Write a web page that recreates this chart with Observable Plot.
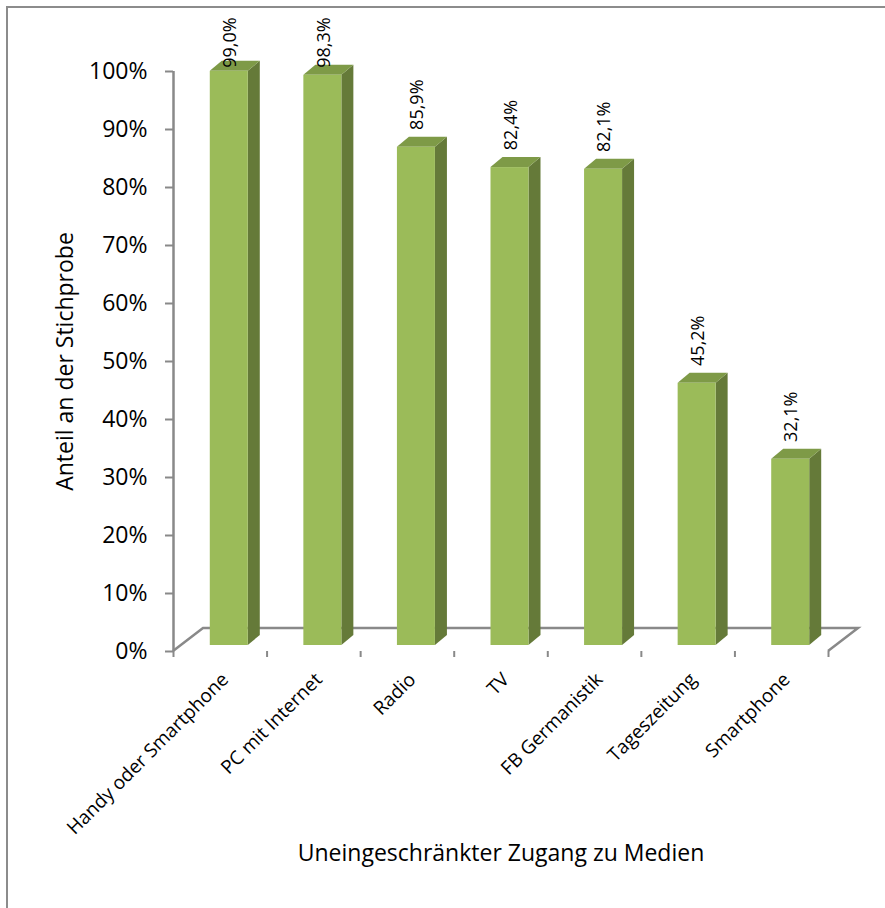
<!DOCTYPE html>
<html>
<head>
<meta charset="utf-8">
<script src="https://cdn.jsdelivr.net/npm/d3@7"></script>
<script src="https://cdn.jsdelivr.net/npm/@observablehq/plot@0.6"></script>
<style>
  html, body { margin: 0; padding: 0; background: #fff; overflow: hidden; }
  #wrap { position: relative; width: 885px; height: 908px; overflow: hidden; background: #fff; }
  #chart svg { display: block; background: transparent; }
  #border { position: absolute; left: 6px; top: 6px; width: 1000px; height: 1000px;
            border: 2px solid #8c8c8c; pointer-events: none; }
</style>
</head>
<body>
<div id="wrap"><div id="chart"></div><div id="border"></div></div>
<script>
// Media categories and the share of the sample with unrestricted access (%)
const categories = [
  "Handy oder Smartphone",
  "PC mit Internet",
  "Radio",
  "TV",
  "FB Germanistik",
  "Tageszeitung",
  "Smartphone"
];
const shares = [99.0, 98.3, 85.9, 82.4, 82.1, 45.2, 32.1];
const yTicks = [0, 10, 20, 30, 40, 50, 60, 70, 80, 90, 100];
const xTitle = "Uneingeschränkter Zugang zu Medien";
const yTitle = "Anteil an der Stichprobe";

const rows = categories.map((name, i) => ({name, i, share: shares[i]}));
const fmtShare = (v) => v.toFixed(1).replace(".", ",") + "%";

// Pixel geometry of the pseudo-3D look
const FLOOR = {dx: 30, dy: -23};     // depth of the floor
const PLANE = {dx: 9, dy: -6};       // bars sit slightly behind the front edge
const DEPTH = {dx: 12, dy: -10};     // bar thickness
const HALF = 19;                     // half width of a bar's front face
const GRID = "#898989";

const COLORS = {front: "#9bbb59", side: "#657a39", top: "#7e9a47"};

// Floor outline: front edge, back edge and the two receding sides
function floor(index, scales) {
  const x0 = scales.x(0), x1 = scales.x(categories.length), y0 = scales.y(0);
  const g = d3.create("svg:g")
    .attr("fill", "none")
    .attr("stroke", GRID)
    .attr("stroke-width", 2.5);
  g.append("path").attr("d",
    `M${x0},${y0}L${x0 + FLOOR.dx},${y0 + FLOOR.dy}L${x1 + FLOOR.dx},${y0 + FLOOR.dy}L${x1},${y0}`);
  return g.node();
}

// Boxes: front face, right side and top
function boxes(index, scales) {
  const g = d3.create("svg:g");
  for (const r of rows) {
    const cx = scales.x(r.i + 0.5) + PLANE.dx;
    const xl = cx - HALF, xr = cx + HALF;
    const yb = scales.y(0) + PLANE.dy;
    const yt = scales.y(r.share) + PLANE.dy;
    g.append("polygon")
      .attr("fill", COLORS.side)
      .attr("points", [[xr, yb], [xr + DEPTH.dx, yb + DEPTH.dy], [xr + DEPTH.dx, yt + DEPTH.dy], [xr, yt]].join(" "));
    g.append("polygon")
      .attr("fill", COLORS.top)
      .attr("points", [[xl, yt], [xl + DEPTH.dx, yt + DEPTH.dy], [xr + DEPTH.dx, yt + DEPTH.dy], [xr, yt]].join(" "));
    g.append("rect")
      .attr("fill", COLORS.front)
      .attr("x", xl).attr("y", yt)
      .attr("width", xr - xl).attr("height", yb - yt);
  }
  return g.node();
}

const chart = Plot.plot({
  width: 885,
  height: 908,
  marginLeft: 173,
  marginRight: 57,
  marginTop: 71,
  marginBottom: 257,
  style: {fontFamily: "'Open Sans', sans-serif", background: "transparent", color: "#000"},
  x: {type: "linear", domain: [0, categories.length], axis: null},
  y: {domain: [0, 100], axis: null},
  marks: [
    floor,
    Plot.ruleX([0], {stroke: GRID, strokeWidth: 2.5}),
    Plot.axisY({
      ticks: yTicks,
      tickSize: 8,
      tickPadding: 18,
      tickFormat: (d) => d + "%",
      fontSize: 23,
      stroke: GRID,
      strokeWidth: 2,
      label: null
    }),
    Plot.axisX({
      ticks: d3.range(categories.length + 1),
      tickSize: 6,
      tickFormat: () => "",
      stroke: GRID,
      strokeWidth: 2,
      label: null
    }),
    boxes,
    // value labels above the bars, kept inside the top of the chart area
    Plot.text(rows, {
      x: (d) => d.i + 0.5,
      y: (d) => Math.min(d.share + 3.0, 99.6),
      text: (d) => fmtShare(d.share),
      rotate: -90,
      textAnchor: "start",
      fontSize: 18,
      fill: "#000",
      dx: PLANE.dx + 1,
      dy: PLANE.dy
    }),
    // category labels under the floor
    Plot.text(rows, {
      x: (d) => d.i + 0.5,
      y: 0,
      text: "name",
      rotate: -45,
      textAnchor: "end",
      fontSize: 19,
      fill: "#000",
      dx: 5,
      dy: 25
    }),
    Plot.text([yTitle], {
      frameAnchor: "left",
      textAnchor: "middle",
      rotate: -90,
      fontSize: 23,
      fill: "#000",
      dx: -108
    }),
    Plot.text([xTitle], {
      frameAnchor: "bottom",
      textAnchor: "middle",
      fontSize: 23,
      fill: "#000",
      dy: 209
    })
  ]
});

document.getElementById("chart").appendChild(chart);
</script>
</body>
</html>
